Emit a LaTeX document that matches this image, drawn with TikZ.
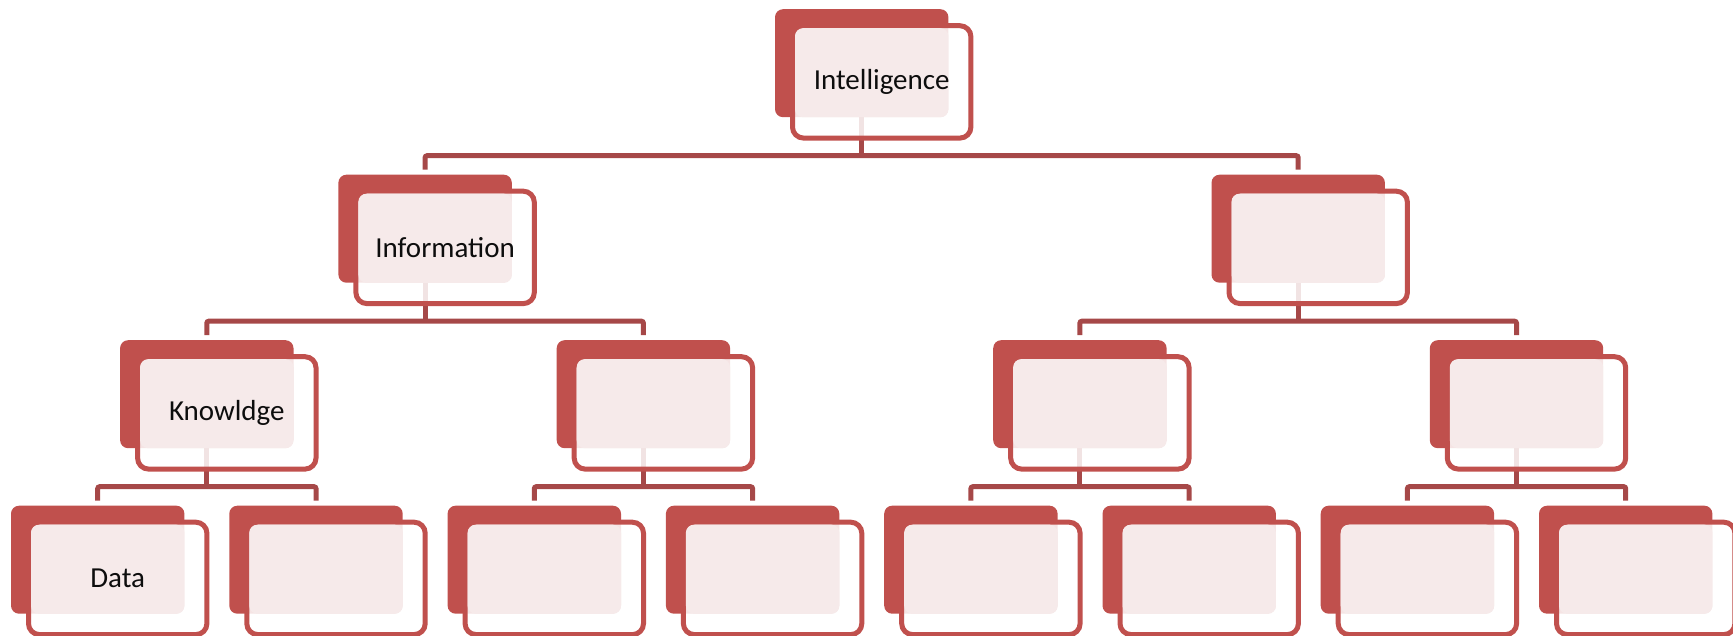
\documentclass[tikz,border=0pt]{standalone}
\usepackage{fontspec}
\setmainfont{Carlito}
\usetikzlibrary{backgrounds}
\definecolor{dred}{HTML}{C0504D}
\definecolor{conn}{HTML}{A64848}
\definecolor{pale}{HTML}{F6EAEA}
\definecolor{txt}{HTML}{0D0D0D}
\tikzset{
  redbox/.style={anchor=north west, minimum width=173.4pt, minimum height=108pt, inner sep=0pt, outer sep=0pt, fill=dred, rounded corners=8pt},
  outbox/.style={anchor=north west, minimum width=178.4pt, minimum height=112.4pt, inner sep=0pt, outer sep=0pt, draw=dred, line width=5pt, fill=white, fill opacity=0.85, rounded corners=11pt},
  palebox/.style={anchor=north west, minimum width=153.4pt, minimum height=89pt, inner sep=0pt, outer sep=0pt, fill=pale, rounded corners=8pt},
  lbl/.style={inner sep=0pt, text=txt, font=\fontsize{29}{34}\selectfont},
  connline/.style={draw=conn, line width=5pt, rounded corners=2pt}
}
\newcommand\dikwnode[4]{%
  \node[redbox] (#1) at (#2,#3) {};
  \node[outbox] (#1o) at ([xshift=17.5pt,yshift=-16.5pt]#1.north west) {};
  \node[palebox] (#1p) at ([xshift=20pt,yshift=-19pt]#1.north west) {};
  \node[lbl] (#1t) at (#1o.center) {#4};
}
\newcommand\dikwlink[3]{%
  \coordinate (#1bar) at ([yshift=-38.5pt]#1.south);
  \begin{pgfonlayer}{background}
    \draw[connline] (#1.south) -- (#1bar);
    \draw[connline] ([yshift=5pt]#2.north) |- (#1bar) -| ([yshift=5pt]#3.north);
  \end{pgfonlayer}
}
\begin{document}
\begin{tikzpicture}[x=1pt,y=-1pt]
\useasboundingbox (0,0) rectangle (1733,636);
% level 0
\dikwnode{a}{775}{9.2}{Intelligence}
% level 1
\dikwnode{b0}{338.4}{174.7}{Information}
\dikwnode{b1}{1211.5}{174.7}{}
% level 2
\dikwnode{c0}{120.1}{340.2}{Knowldge}
\dikwnode{c1}{556.7}{340.2}{}
\dikwnode{c2}{993.2}{340.2}{}
\dikwnode{c3}{1429.8}{340.2}{}
% level 3
\dikwnode{d0}{11}{505.7}{Data}
\dikwnode{d1}{229.3}{505.7}{}
\dikwnode{d2}{447.6}{505.7}{}
\dikwnode{d3}{665.9}{505.7}{}
\dikwnode{d4}{884.2}{505.7}{}
\dikwnode{d5}{1102.5}{505.7}{}
\dikwnode{d6}{1320.7}{505.7}{}
\dikwnode{d7}{1539}{505.7}{}
% connectors
\dikwlink{a}{b0}{b1}
\dikwlink{b0}{c0}{c1}
\dikwlink{b1}{c2}{c3}
\dikwlink{c0}{d0}{d1}
\dikwlink{c1}{d2}{d3}
\dikwlink{c2}{d4}{d5}
\dikwlink{c3}{d6}{d7}
\end{tikzpicture}
\end{document}
